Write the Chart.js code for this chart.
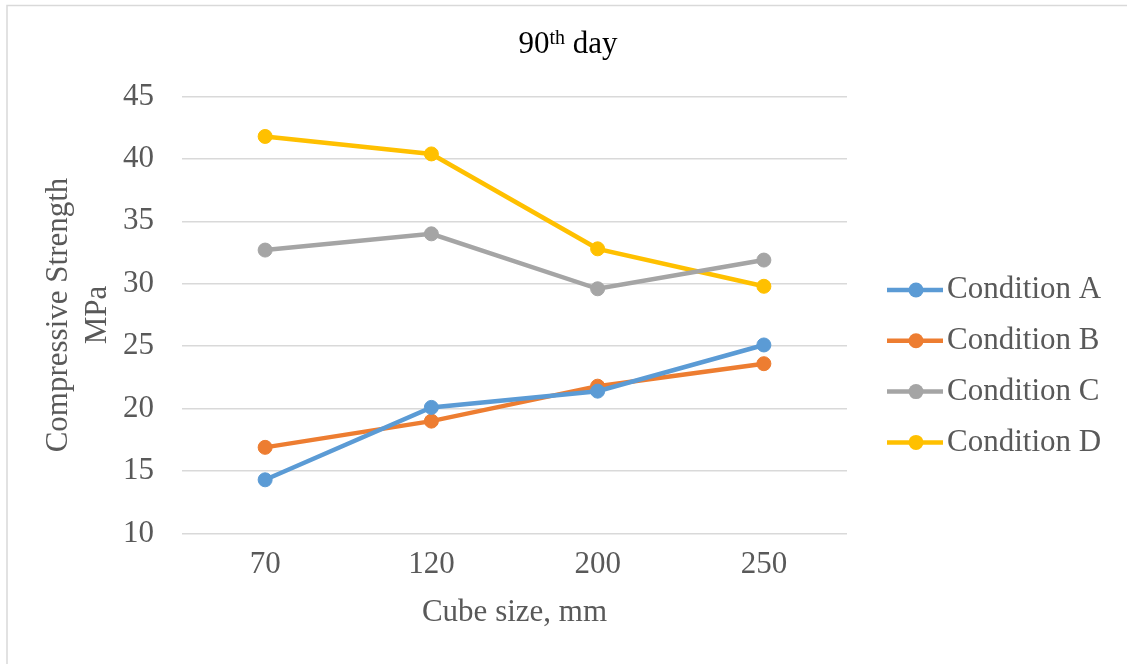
<!DOCTYPE html>
<html>
<head>
<meta charset="utf-8">
<title>90th day</title>
<script src="https://cdn.jsdelivr.net/npm/chart.js@4/dist/chart.umd.min.js"></script>
<style>
body { margin: 0; background: #fff; }
canvas { display: block; }
</style>
</head>
<body>
<canvas id="myChart" width="1127" height="664"></canvas>
<script>
// cube size (mm) on x, compressive strength (MPa) on y
const cubeSizes = ["70", "120", "200", "250"];
const conditionA = [14.3, 20.1, 21.4, 25.1];
const conditionB = [16.9, 19.0, 21.8, 23.6];
const conditionC = [32.7, 34.0, 29.6, 31.9];
const conditionD = [41.8, 40.4, 32.8, 29.8];
const seriesNames = ["Condition A", "Condition B", "Condition C", "Condition D"];
const seriesColors = ["#5b9bd5", "#ed7d31", "#a5a5a5", "#ffc000"];
const yMin = 10;
const yMax = 45;
const yStep = 5;

const serif = "'Liberation Serif', 'Times New Roman', serif";
const textGray = "#595959";

// white page with the thin frame round the chart
const frame = {
  id: "frame",
  beforeDraw(chart) {
    const ctx = chart.ctx;
    ctx.save();
    ctx.fillStyle = "#fff";
    ctx.fillRect(0, 0, chart.width, chart.height);
    ctx.strokeStyle = "#d9d9d9";
    ctx.lineWidth = 1.5;
    ctx.strokeRect(7, 5.5, chart.width + 20, chart.height + 20);
    ctx.restore();
  }
};

// title with a raised "th"
const dayTitle = {
  id: "dayTitle",
  afterDraw(chart) {
    const ctx = chart.ctx;
    const big = "31px " + serif;
    const small = "20px " + serif;
    ctx.save();
    ctx.fillStyle = "#000";
    ctx.textBaseline = "alphabetic";
    ctx.font = big;
    const w1 = ctx.measureText("90").width;
    const w3 = ctx.measureText(" day").width;
    ctx.font = small;
    const w2 = ctx.measureText("th").width;
    let x = 568 - (w1 + w2 + w3) / 2;
    const base = 53;
    ctx.font = big;
    ctx.fillText("90", x, base);
    x += w1;
    ctx.font = small;
    ctx.fillText("th", x, base - 9);
    x += w2;
    ctx.font = big;
    ctx.fillText(" day", x, base);
    ctx.restore();
  }
};

// legend on the right: line with a dot, then the name
const sideLegend = {
  id: "sideLegend",
  afterDraw(chart) {
    const ctx = chart.ctx;
    const x0 = chart.chartArea.right + 40;
    ctx.save();
    ctx.font = "31px " + serif;
    ctx.textBaseline = "middle";
    chart.data.datasets.forEach((ds, i) => {
      const y = 290 + i * 50.8;
      ctx.strokeStyle = ds.borderColor;
      ctx.lineWidth = 4.5;
      ctx.beginPath();
      ctx.moveTo(x0, y);
      ctx.lineTo(x0 + 56, y);
      ctx.stroke();
      ctx.fillStyle = ds.borderColor;
      ctx.beginPath();
      ctx.arc(x0 + 29, y, 7.5, 0, Math.PI * 2);
      ctx.fill();
      ctx.fillStyle = textGray;
      ctx.fillText(ds.label, x0 + 60, y);
    });
    ctx.restore();
  }
};

function makeDatasets() {
  const values = [conditionA, conditionB, conditionC, conditionD];
  return values.map((data, i) => {
    return {
      label: seriesNames[i],
      data,
      borderColor: seriesColors[i],
      backgroundColor: seriesColors[i],
      borderWidth: 4.5,
      pointRadius: 7,
      pointBorderWidth: 1,
      pointBackgroundColor: seriesColors[i],
      pointBorderColor: seriesColors[i],
      tension: 0
    };
  });
}

function renderGrafica() {
  const config = {
    type: "line",
    data: {
      labels: cubeSizes,
      datasets: makeDatasets()
    },
    options: {
      responsive: false,
      animation: false,
      layout: { padding: { top: 96.5, right: 280, left: 0, bottom: 0 } },
      plugins: {
        legend: { display: false },
        title: { display: false },
        tooltip: { enabled: false }
      },
      scales: {
        x: {
          offset: true,
          grid: { display: false, drawTicks: false },
          border: { display: false },
          ticks: { color: textGray, font: { family: serif, size: 31 }, padding: 13 },
          title: {
            display: true,
            text: "Cube size, mm",
            color: textGray,
            font: { family: serif, size: 31 },
            padding: { top: 0, bottom: 33 }
          },
          afterFit(scale) { scale.height = 130.5; }
        },
        y: {
          min: yMin,
          max: yMax,
          grid: { color: "#d9d9d9", lineWidth: 1.5, drawTicks: false },
          border: { display: false },
          ticks: { stepSize: yStep, color: textGray, font: { family: serif, size: 31 }, padding: 28 },
          title: {
            display: true,
            text: ["Compressive Strength", "MPa"],
            color: textGray,
            font: { family: serif, size: 31, lineHeight: 1.24 },
            padding: { top: 40, bottom: 0 }
          },
          afterFit(scale) { scale.width = 182; }
        }
      }
    },
    plugins: [frame, dayTitle, sideLegend]
  };

  const myChart = document.getElementById("myChart");
  new Chart(myChart, config);
}

renderGrafica();
</script>
</body>
</html>
